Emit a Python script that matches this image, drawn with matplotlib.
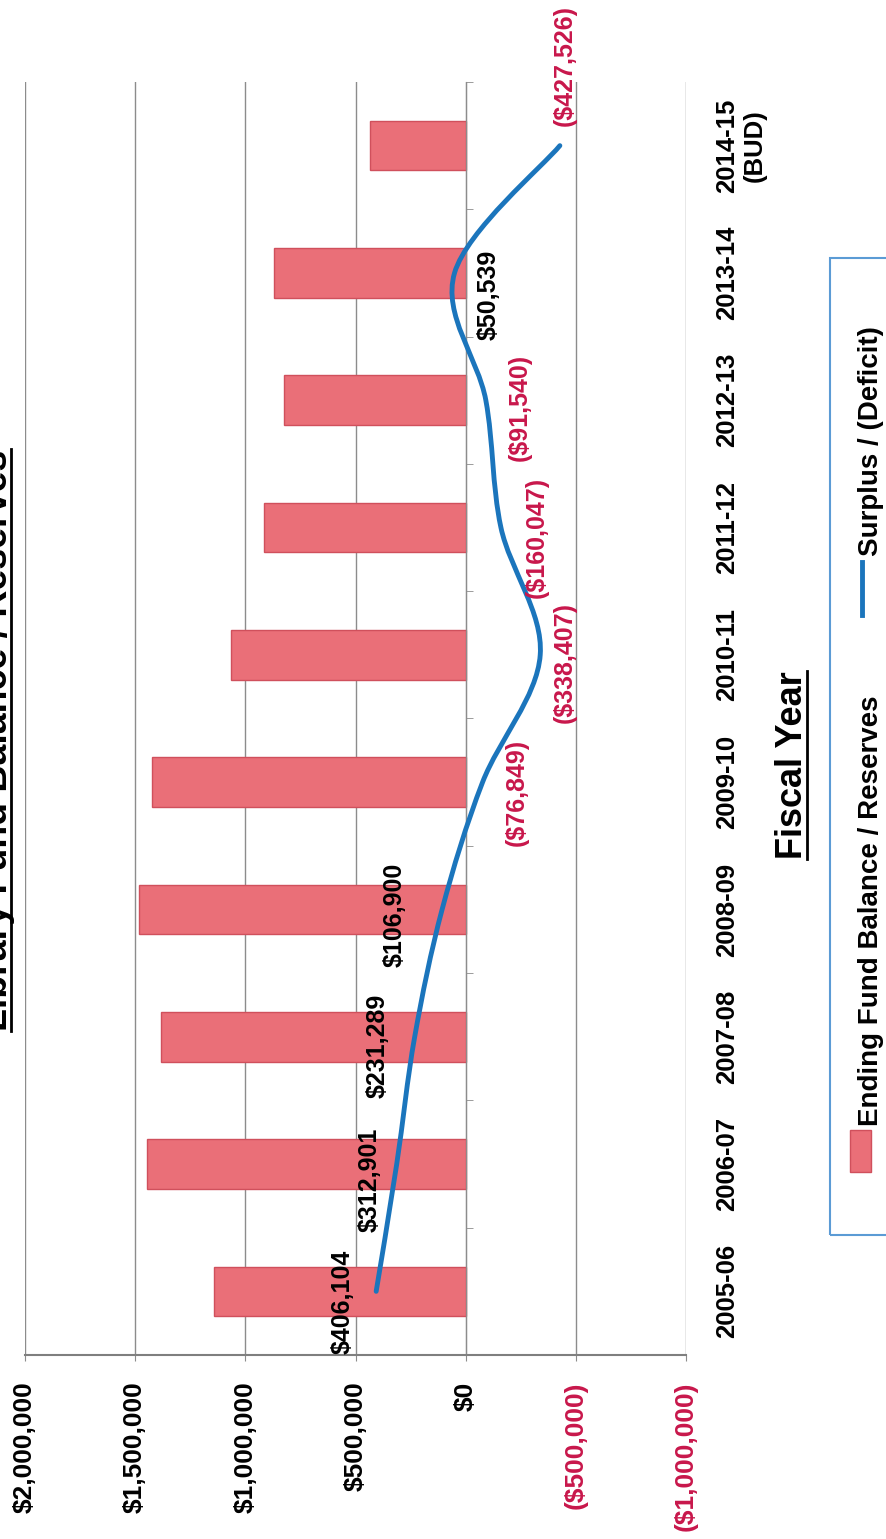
import matplotlib
matplotlib.use("Agg")
import matplotlib.pyplot as plt
import matplotlib.transforms as mtrans
import numpy as np
from matplotlib.path import Path
from matplotlib.patches import PathPatch, Rectangle
from matplotlib.lines import Line2D

plt.rcParams['font.family'] = ['Liberation Sans', 'DejaVu Sans']

# data
years = ["2005-06", "2006-07", "2007-08", "2008-09", "2009-10",
         "2010-11", "2011-12", "2012-13", "2013-14", "2014-15\n(BUD)"]
fund_balance = [1141000, 1445000, 1382000, 1482000, 1423000,
                1064000, 914000, 823000, 868000, 436000]
surplus = [406104, 312901, 231289, 106900, -76849,
           -338407, -160047, -91540, 50539, -427526]
value_ticks = [2000000, 1500000, 1000000, 500000, 0, -500000, -1000000]

title = "Library Fund Balance / Reserves"
xlabel = "Fiscal Year"
legend_bar = "Ending Fund Balance / Reserves"
legend_line = "Surplus / (Deficit)"

# label offsets in pixels (right, down) from each point
label_offsets = [(-34, 11), (-27, 16), (-37, 9), (-47, 5), (34, 10),
                 (25, 8), (36, 10), (34, 7), (34, 22), (5, -80)]

BAR_COLOR = '#EA6F78'
BAR_EDGE = '#D0505C'
LINE_COLOR = '#1B75BC'
NEG_COLOR = '#C8174B'
GRID = '#8C8C8C'


def money(v):
    return f"${v:,}" if v >= 0 else f"(${-v:,})"


W, H = 886, 1539
fig = plt.figure(figsize=(W / 100, H / 100), dpi=100)


def fx(px):
    return px / W


def fy(py):
    return 1 - py / H


ax = fig.add_axes([fx(25), fy(1355), 661 / W, 1273 / H])

ypos = np.arange(len(years))
ax.barh(ypos, fund_balance, height=0.39, color=BAR_COLOR, edgecolor=BAR_EDGE,
        linewidth=1, zorder=2)

# smoothed surplus line (Catmull-Rom as cubic Bezier)
pts = np.column_stack([surplus, ypos]).astype(float)
verts = [pts[0]]
codes = [Path.MOVETO]
for i in range(len(pts) - 1):
    p0 = pts[i - 1] if i > 0 else pts[i]
    p1, p2 = pts[i], pts[i + 1]
    p3 = pts[i + 2] if i + 2 < len(pts) else pts[i + 1]
    verts += [p1 + (p2 - p0) / 6, p2 - (p3 - p1) / 6, p2]
    codes += [Path.CURVE4] * 3
ax.add_patch(PathPatch(Path(verts, codes), fill=False, edgecolor=LINE_COLOR,
                       lw=3.5, zorder=3, capstyle='round'))

for i, v in enumerate(surplus):
    dx, dy = label_offsets[i]
    ax.annotate(money(v), (v, ypos[i]), xytext=(dx * 0.72, -dy * 0.72),
                textcoords='offset points', rotation=90, ha='center', va='center',
                fontsize=18, fontweight='bold',
                color='black' if v >= 0 else NEG_COLOR, zorder=4)

ax.set_xlim(2000000, -1000000)
ax.set_ylim(-0.5, len(years) - 0.5)

ax.set_xticks(value_ticks)
ax.set_xticklabels([money(v) for v in value_ticks], rotation=90,
                   fontsize=19, fontweight='bold')
for lbl, v in zip(ax.get_xticklabels(), value_ticks):
    lbl.set_color('black' if v >= 0 else NEG_COLOR)
ax.tick_params(axis='x', length=4, color=GRID, pad=15)
ax.grid(axis='x', color=GRID, lw=1)
ax.set_axisbelow(True)

ax.spines['top'].set_visible(False)
ax.spines['right'].set_visible(False)
ax.spines['left'].set_position(('data', 0))
ax.spines['left'].set_color(GRID)
ax.spines['bottom'].set_color('#7F7F7F')
ax.spines['bottom'].set_linewidth(1.5)

ax.set_yticks([])
ax.set_yticks(np.arange(len(years) + 1) - 0.5, minor=True)
ax.tick_params(axis='y', which='minor', left=True, direction='in', length=5,
               color=GRID, labelleft=False)

cat_tr = mtrans.blended_transform_factory(ax.transAxes, ax.transData)
for i, name in enumerate(years):
    ax.text(1 + 29 / 661, ypos[i], name, transform=cat_tr, rotation=90,
            ha='left', va='center', multialignment='center',
            fontsize=18.5, fontweight='bold')

# title and axis title (underlined)
t_title = fig.text(fx(7), fy(740), title, rotation=90, rotation_mode='anchor',
                   ha='center', va='baseline', fontsize=27, fontweight='bold')
t_xlab = fig.text(fx(802), fy(765), xlabel, rotation=90, rotation_mode='anchor',
                  ha='center', va='baseline', fontsize=26, fontweight='bold')

# legend
fig.add_artist(Rectangle((fx(830), fy(1235)), fx(920) - fx(830), fy(258) - fy(1235),
                         transform=fig.transFigure, fill=False,
                         edgecolor='#5B9BD5', lw=1.5))
fig.add_artist(Rectangle((fx(850), fy(1172)), fx(871) - fx(850), fy(1130) - fy(1172),
                         transform=fig.transFigure, facecolor=BAR_COLOR,
                         edgecolor=BAR_EDGE, lw=1))
fig.text(fx(878), fy(1126), legend_bar, rotation=90, rotation_mode='anchor',
         ha='left', va='baseline', fontsize=20, fontweight='bold')
fig.add_artist(Line2D([fx(862), fx(862)], [fy(615), fy(562)],
                      transform=fig.transFigure, color=LINE_COLOR, lw=3.5))
fig.text(fx(878), fy(556), legend_line, rotation=90, rotation_mode='anchor',
         ha='left', va='baseline', fontsize=20, fontweight='bold')

fig.canvas.draw()
renderer = fig.canvas.get_renderer()
for t, ux in [(t_title, 11), (t_xlab, 807)]:
    bb = t.get_window_extent(renderer)
    fig.add_artist(Line2D([fx(ux), fx(ux)], [bb.y0 / H, bb.y1 / H],
                          transform=fig.transFigure, color='black', lw=2))

fig.savefig("out.png", dpi=100, facecolor='white')
